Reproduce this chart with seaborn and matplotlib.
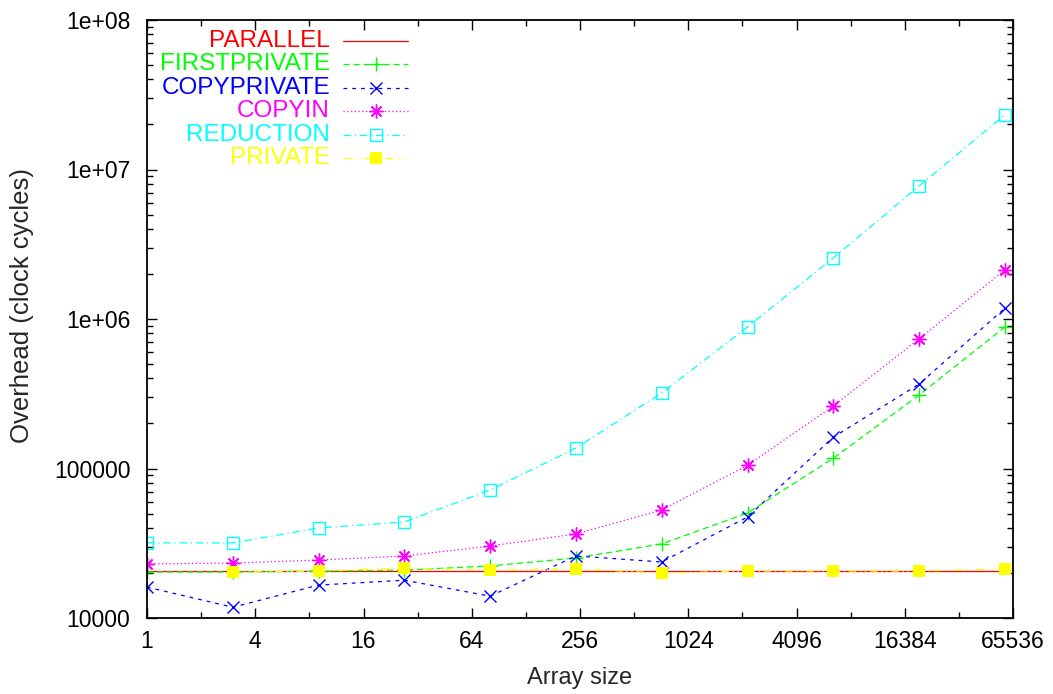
import numpy as np
import matplotlib
matplotlib.use("Agg")
import matplotlib.pyplot as plt
from matplotlib.ticker import FixedLocator, FuncFormatter, LogLocator, NullFormatter
import seaborn as sns

# Array sizes (powers of 3)
sizes = [1, 3, 9, 27, 81, 243, 729, 2187, 6561, 19683, 59049]

# Overheads in clock cycles
parallel = [20600, 20600, 20600, 20600, 20600, 20600, 20600, 20600, 20600, 20600, 20600]
firstprivate = [20300, 20300, 20600, 20900, 22300, 25200, 31300, 50400, 117000, 310000, 884000]
copyprivate = [16100, 11800, 16600, 17900, 14000, 26000, 23700, 47400, 162000, 367000, 1180000]
copyin = [23000, 23300, 24400, 26000, 30300, 36500, 52800, 105000, 262000, 735000, 2130000]
reduction = [31800, 31800, 40000, 43900, 71800, 137000, 320000, 884000, 2560000, 7760000, 23200000]
private = [np.nan, 20300, 20600, 21600, 20900, 21300, 20000, 20600, 20600, 20600, 21300]

labels = ["PARALLEL", "FIRSTPRIVATE", "COPYPRIVATE", "COPYIN", "REDUCTION", "PRIVATE"]
colors = ["#ff0000", "#00ff00", "#0000ff", "#ff00ff", "#00ffff", "#ffff00"]

x_ticks = [1, 4, 16, 64, 256, 1024, 4096, 16384, 65536]
y_ticks = [1e4, 1e5, 1e6, 1e7, 1e8]
y_tick_labels = ["10000", "100000", "1e+06", "1e+07", "1e+08"]

W, H = 1053, 694
L, R, T, B = 147, 1013, 20, 618


def to_axes(px, py):
    """Pixel position in the figure -> axes fraction."""
    return (px - L) / (R - L), (B - py) / (B - T)


def main():
    sns.set_style("ticks")
    plt.rcParams['font.family'] = ['Liberation Sans', 'DejaVu Sans']

    fig = plt.figure(figsize=(W / 100, H / 100), dpi=100)
    ax = fig.add_axes([L / W, 1 - B / H, (R - L) / W, (B - T) / H])

    series = [parallel, firstprivate, copyprivate, copyin, reduction, private]
    lines = ['-', (0, (5, 3)), (0, (3, 4)), (0, (1, 2)),
             (0, (6, 3, 1, 3)), (0, (6, 3, 1, 3, 1, 3))]
    marks = [
        dict(marker=''),
        dict(marker='+', markersize=10, mew=1),
        dict(marker='x', markersize=8, mew=1),
        dict(marker=(8, 2, 0), markersize=10, mew=1),
        dict(marker='s', markersize=8, mew=1, markerfacecolor='none'),
        dict(marker='s', markersize=9, mew=0),
    ]

    for vals, col, ls, mk in zip(series, colors, lines, marks):
        sns.lineplot(x=sizes, y=vals, color=col, linestyle=ls, lw=0.9,
                     markeredgecolor=col, ax=ax, **mk)

    ax.set_xscale('log', base=2)
    ax.set_yscale('log')
    ax.set_xlim(1, 65536)
    ax.set_ylim(1e4, 1e8)

    ax.xaxis.set_major_locator(FixedLocator(x_ticks))
    ax.xaxis.set_minor_locator(FixedLocator([2 * t for t in x_ticks[:-1]]))
    ax.xaxis.set_major_formatter(FuncFormatter(lambda v, p: f"{int(round(v))}"))
    ax.xaxis.set_minor_formatter(NullFormatter())

    ax.yaxis.set_major_locator(FixedLocator(y_ticks))
    ax.yaxis.set_minor_locator(LogLocator(base=10, subs=np.arange(2, 10)))
    ax.yaxis.set_major_formatter(
        FuncFormatter(lambda v, p: y_tick_labels[y_ticks.index(v)]
                      if v in y_ticks else ""))
    ax.yaxis.set_minor_formatter(NullFormatter())

    ax.tick_params(which='both', direction='in', top=True, right=True,
                   colors='black', labelsize=16.5)
    ax.tick_params(which='major', length=7, width=1)
    ax.tick_params(which='minor', length=4, width=1)
    ax.tick_params(axis='y', pad=12)
    ax.tick_params(axis='x', pad=9)
    for s in ax.spines.values():
        s.set_visible(True)
        s.set_linewidth(1.3)
        s.set_color('black')

    ax.set_xlabel("Array size", fontsize=17)
    ax.set_ylabel("Overhead (clock cycles)", fontsize=18.5)
    ax.xaxis.set_label_coords(0.5, -0.082)
    ax.yaxis.set_label_coords(-0.130, 0.522)

    # Key in gnuplot fashion: right-aligned coloured text, then the sample
    rows = [41, 64, 88, 111, 135, 158]
    for py, name, col, ls, mk in zip(rows, labels, colors, lines, marks):
        tx, ty = to_axes(330, py)
        ax.text(tx, ty, name, color=col, fontsize=17.5, ha='right',
                va='center', transform=ax.transAxes)
        x0, _ = to_axes(343, py)
        x1, _ = to_axes(408, py)
        xm, _ = to_axes(376, py)
        ax.plot([x0, x1], [ty, ty], color=col, linestyle=ls, lw=0.9,
                transform=ax.transAxes, clip_on=False)
        if mk['marker']:
            ax.plot([xm], [ty], color=col, linestyle='none',
                    markeredgecolor=col, transform=ax.transAxes,
                    clip_on=False, **mk)

    fig.savefig("out.png", dpi=100)


if __name__ == "__main__":
    main()
